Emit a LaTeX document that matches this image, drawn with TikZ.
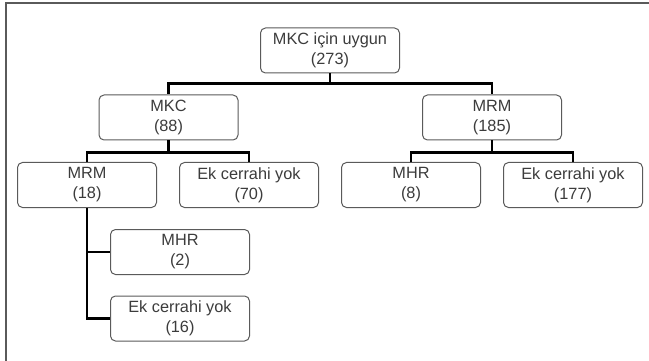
\documentclass[tikz,border=0pt]{standalone}
\usepackage{fontspec}
\setmainfont{Liberation Sans}
\definecolor{boxline}{HTML}{5A5A5A}
\definecolor{boxtext}{HTML}{3C3C3C}
\tikzset{
  box/.style={draw=boxline, line width=1pt, rounded corners=5pt, fill=white,
    minimum width=139pt, minimum height=45pt, inner sep=0pt, align=center,
    text=boxtext, font=\fontsize{16.3}{20}\selectfont},
  link/.style={line width=2.6pt, black}
}
\begin{document}
\begin{tikzpicture}[x=1pt,y=-1pt]
      \useasboundingbox (0,0) rectangle (649,361);
      \draw[boxline, line width=1.6pt] (6,361) -- (6,3) -- (649,3);
      \node[box] (root) at (330,50.5) {MKC için uygun\\(273)};
      \node[box] (mkc) at (168.5,117.5) {MKC\\(88)};
      \node[box] (mrmR) at (492,117.5) {MRM\\(185)};
      \node[box] (mrmL) at (87,185) {MRM\\(18)};
      \node[box] (ekL) at (249,185) {Ek cerrahi yok\\(70)};
      \node[box] (mhrR) at (411,185) {MHR\\(8)};
      \node[box] (ekR) at (573,185) {Ek cerrahi yok\\(177)};
      \node[box] (mhrL) at (180,252) {MHR\\(2)};
      \node[box] (ekLL) at (180,318.5) {Ek cerrahi yok\\(16)};
      \begin{scope}[link]
        \draw (root.south) -- +(0,10) -| (mkc.north);
        \draw (root.south) -- +(0,10) -| (mrmR.north);
        \draw (mkc.south) -- +(0,12) -| (mrmL.north);
        \draw (mkc.south) -- +(0,12) -| (ekL.north);
        \draw (mrmR.south) -- +(0,12) -| (mhrR.north);
        \draw (mrmR.south) -- +(0,12) -| (ekR.north);
        \draw (mrmL.south) |- (mhrL.west);
        \draw (mrmL.south) |- (ekLL.west);
      \end{scope}
    \end{tikzpicture}
\end{document}
